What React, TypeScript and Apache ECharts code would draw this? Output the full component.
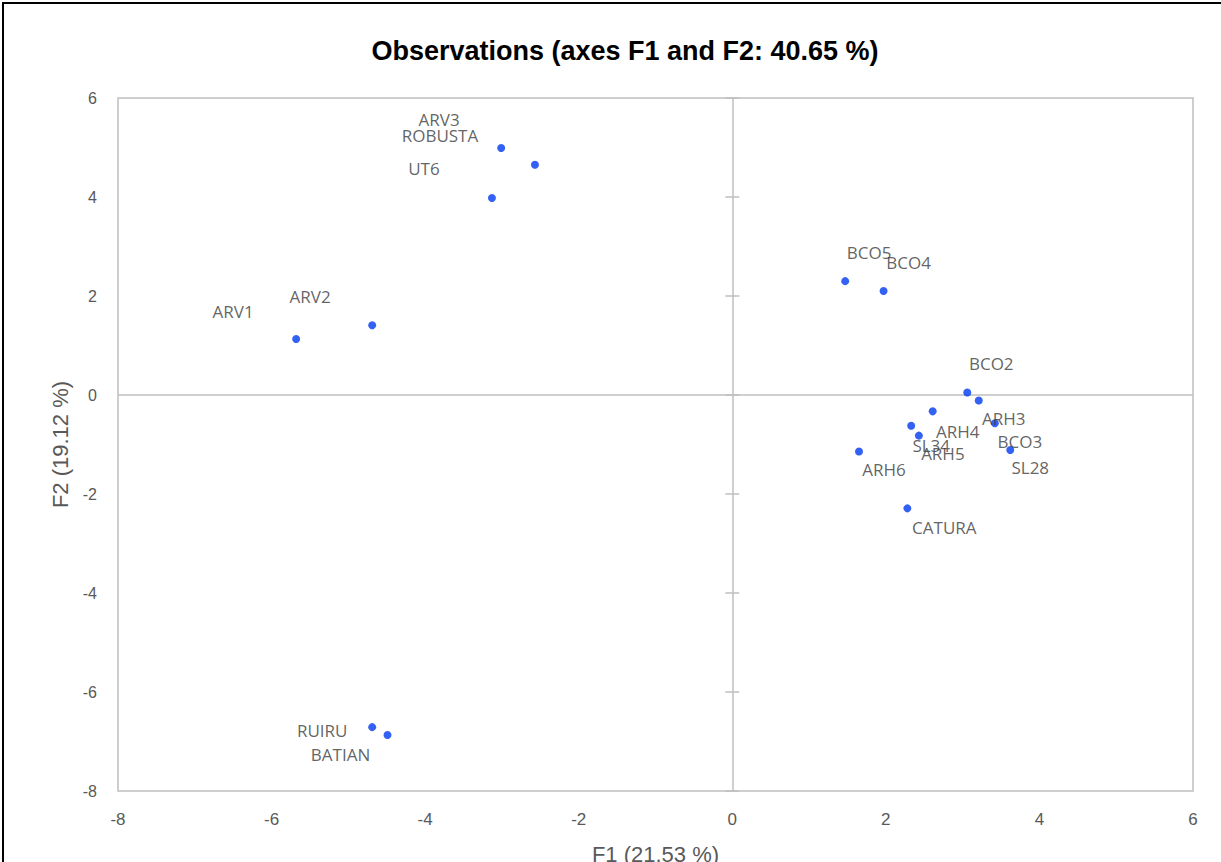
import React, { useEffect, useRef } from "react";
import * as echarts from "echarts";

// Observation coordinates on the first two factorial axes
const names = [
  "ARV1", "ARV2", "ARV3", "ROBUSTA", "UT6",
  "BCO5", "BCO4", "BCO2", "ARH3", "ARH4", "SL34", "ARH5", "BCO3", "SL28", "ARH6", "CATURA",
  "RUIRU", "BATIAN",
];
const f1 = [
  -5.68, -4.69, -3.01, -2.57, -3.13,
  1.47, 1.97, 3.06, 3.21, 2.61, 2.33, 2.43, 3.42, 3.62, 1.65, 2.28,
  -4.69, -4.49,
];
const f2 = [
  1.13, 1.41, 4.99, 4.65, 3.98,
  2.3, 2.1, 0.05, -0.11, -0.33, -0.62, -0.82, -0.57, -1.11, -1.14, -2.29,
  -6.71, -6.87,
];

// Axis tick values
const xTicks = [-8, -6, -4, -2, 0, 2, 4, 6];
const yTicks = [-8, -6, -4, -2, 0, 2, 4, 6];

// Label placement (pixel offsets from each point)
const labelOffsets: Record<string, [number, number]> = {
  ARV1: [-63, -28],
  ARV2: [-62, -29],
  ARV3: [-62, -28],
  ROBUSTA: [-95, -29],
  UT6: [-68, -29],
  BCO5: [24, -29],
  BCO4: [25, -29],
  BCO2: [24, -29],
  ARH3: [25, 18],
  ARH4: [25, 20],
  SL34: [20, 20],
  ARH5: [24, 18],
  BCO3: [25, 18],
  SL28: [20, 18],
  ARH6: [25, 18],
  CATURA: [37, 19],
  RUIRU: [-50, 3],
  BATIAN: [-47, 19],
};

const GRAY = "#bfbfbf";
const TEXT = "#595959";

export default function App() {
  const ref = useRef<HTMLDivElement>(null);

  useEffect(() => {
    document.body.style.margin = "0";
    if (!ref.current) return;
    const chart = echarts.init(ref.current, null, { renderer: "svg" });

    const points = names.map((n, i) => ({
      name: n,
      value: [f1[i], f2[i]],
      label: { offset: labelOffsets[n] || [0, -20] },
    }));

    chart.setOption({
      animation: false,
      backgroundColor: "#ffffff",
      title: {
        text: "Observations (axes F1 and F2: 40.65 %)",
        left: 620,
        textAlign: "center",
        top: 32,
        textStyle: {
          fontFamily: "Liberation Sans, Arial, sans-serif",
          fontWeight: "bold",
          fontSize: 27,
          color: "#000000",
        },
      },
      graphic: [
        {
          type: "rect",
          shape: { x: 3, y: 3, width: 1400, height: 1200 },
          style: { fill: "none", stroke: "#000000", lineWidth: 2 },
          silent: true,
          z: 100,
        },
      ],
      grid: {
        left: 118,
        top: 98,
        width: 1075,
        height: 693,
        outerBoundsMode: "none",
        containLabel: false,
        show: true,
        borderColor: GRAY,
        borderWidth: 1.5,
        backgroundColor: "transparent",
      },
      xAxis: {
        type: "value",
        min: -8,
        max: 6,
        interval: 2,
        name: "F1 (21.53 %)",
        nameLocation: "middle",
        nameGap: 52,
        nameTextStyle: {
          fontFamily: "Liberation Sans, Arial, sans-serif",
          fontSize: 22,
          color: TEXT,
        },
        axisLine: { show: false, onZero: false },
        axisTick: { show: false },
        splitLine: { show: false },
        axisLabel: {
          margin: 20,
          fontFamily: "Liberation Sans Narrow, Liberation Sans, Arial, sans-serif",
          fontSize: 17,
          color: TEXT,
          formatter: (v: number) => (xTicks.includes(v) ? String(v) : ""),
        },
      },
      yAxis: {
        type: "value",
        min: -8,
        max: 6,
        interval: 2,
        name: "F2 (19.12 %)",
        nameLocation: "middle",
        nameGap: 46,
        nameRotate: 90,
        nameTextStyle: {
          fontFamily: "Liberation Sans, Arial, sans-serif",
          fontSize: 22,
          color: TEXT,
        },
        axisLine: { show: false, onZero: false },
        axisTick: { show: false },
        splitLine: { show: false },
        axisLabel: {
          margin: 21,
          fontFamily: "Liberation Sans, Arial, sans-serif",
          fontSize: 16,
          color: TEXT,
          formatter: (v: number) => (yTicks.includes(v) ? String(v) : ""),
        },
      },
      series: [
        {
          type: "scatter",
          symbol: "circle",
          symbolSize: 8,
          itemStyle: { color: "#0039f0" },
          data: points,
          z: 5,
          label: {
            show: true,
            position: "inside",
            formatter: "{b}",
            align: "center",
            verticalAlign: "middle",
            fontFamily: "Open Sans, sans-serif",
            fontSize: 17,
            color: "#3a3a3a",
          },
          markLine: {
            silent: true,
            symbol: ["none", "none"],
            label: { show: false },
            lineStyle: { color: GRAY, type: "solid", width: 1.5 },
            data: [{ xAxis: 0 }, { yAxis: 0 }],
          },
        },
        {
          // cross ticks along the vertical F1 = 0 line
          type: "custom",
          silent: true,
          z: 3,
          data: yTicks.map((v) => [0, v]),
          renderItem: (_params: any, api: any) => {
            const p = api.coord([api.value(0), api.value(1)]);
            return {
              type: "line",
              shape: { x1: p[0] - 7, y1: p[1], x2: p[0] + 7, y2: p[1] },
              style: { stroke: GRAY, lineWidth: 1.5 },
            };
          },
        },
      ],
    });

    return () => chart.dispose();
  }, []);

  return <div ref={ref} style={{ width: 1221, height: 862 }} />;
}
